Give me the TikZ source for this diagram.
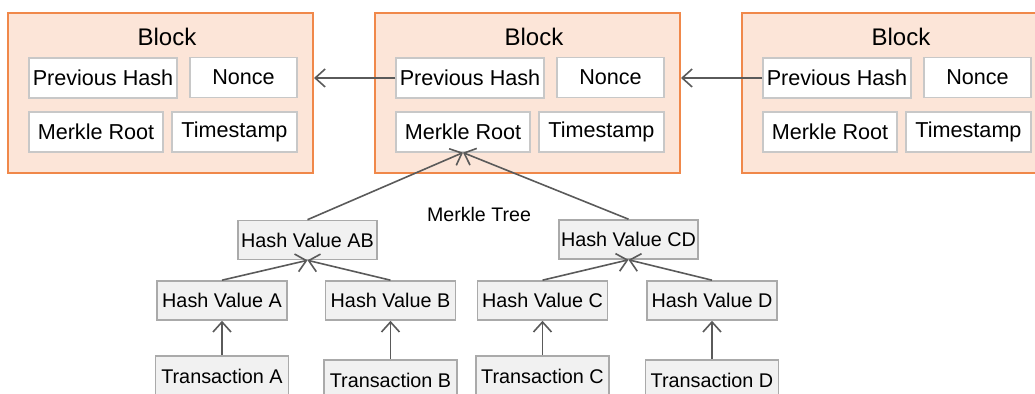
\documentclass[tikz,border=0pt]{standalone}
\usepackage{fontspec}
\setmainfont{Liberation Sans}
\usetikzlibrary{arrows.meta, positioning}
\definecolor{blockorange}{RGB}{240,136,74}
\definecolor{blockfill}{RGB}{252,229,216}
\definecolor{fieldgray}{RGB}{200,200,200}
\definecolor{treegray}{RGB}{170,170,170}
\definecolor{treefill}{RGB}{241,241,241}
\definecolor{linkgray}{RGB}{90,90,90}

\begin{document}
\begin{tikzpicture}[
        x=0.5pt, y=-0.5pt,
        block/.style={rectangle, draw=blockorange, fill=blockfill, line width=1pt, minimum width=152.5pt, minimum height=80pt, inner sep=0pt},
        field/.style={rectangle, draw=fieldgray, fill=white, line width=0.6pt, minimum height=20pt, inner sep=0pt, font=\fontsize{10.8}{12}\selectfont},
        hashbox/.style={rectangle, draw=treegray, fill=treefill, line width=0.8pt, minimum width=65pt, minimum height=19.5pt, inner sep=0pt, font=\fontsize{9.9}{11}\selectfont},
        link/.style={-{Straight Barb[length=5pt, width=9pt]}, line width=0.8pt, linkgray}
    ]
        \useasboundingbox (0,0) rectangle (1035,394);

        % three chained blocks
        \foreach \i/\x in {1/8, 2/375, 3/742} {
            \node[block] (block\i) at (\x+152.5, 93) {};
            \node[font=\fontsize{12}{13}\selectfont] (title\i) at (\x+159, 37) {Block};
            \node[field, minimum width=74pt] (prev\i) at (\x+95, 78) {Previous Hash};
            \node[field, minimum width=53.5pt] (nonce\i) at (\x+235.5, 77.5) {Nonce};
            \node[field, minimum width=67pt] (root\i) at (\x+88, 132) {Merkle Root};
            \node[field, minimum width=62.5pt] (time\i) at (\x+226.5, 132) {Timestamp};
        }

        \draw[link] (prev2.west) -- (prev2.west -| block1.east);
        \draw[link] (prev3.west) -- (prev3.west -| block2.east);

        % merkle tree
        \node[font=\fontsize{9.8}{11}\selectfont] (treelabel) at (479, 215) {Merkle Tree};
        \node[hashbox, minimum width=69.5pt] (hashAB) at (307.5, 240) {Hash Value AB};
        \node[hashbox, minimum width=69.5pt] (hashCD) at (628.5, 239.5) {Hash Value CD};
        \node[hashbox] (hashA) at (222, 300.5) {Hash Value A};
        \node[hashbox] (hashB) at (390.5, 300.5) {Hash Value B};
        \node[hashbox] (hashC) at (542.5, 300.5) {Hash Value C};
        \node[hashbox] (hashD) at (712, 300.5) {Hash Value D};
        \node[hashbox, minimum width=66.5pt, minimum height=20pt] (txA) at (222, 376) {Transaction A};
        \node[hashbox, minimum width=66.5pt, minimum height=20pt] (txB) at (390.5, 380) {Transaction B};
        \node[hashbox, minimum width=66.5pt, minimum height=20pt] (txC) at (542.5, 376) {Transaction C};
        \node[hashbox, minimum width=66.5pt, minimum height=20pt] (txD) at (712, 380) {Transaction D};

        \draw[link] (hashAB.north) -- (root2.south);
        \draw[link] (hashCD.north) -- (root2.south);
        \draw[link] (hashA.north) -- (hashAB.south);
        \draw[link] (hashB.north) -- (hashAB.south);
        \draw[link] (hashC.north) -- (hashCD.south);
        \draw[link] (hashD.north) -- (hashCD.south);
        \foreach \t in {A, B, C, D}
            \draw[link] (tx\t.north) -- (hash\t.south);
    \end{tikzpicture}
\end{document}
